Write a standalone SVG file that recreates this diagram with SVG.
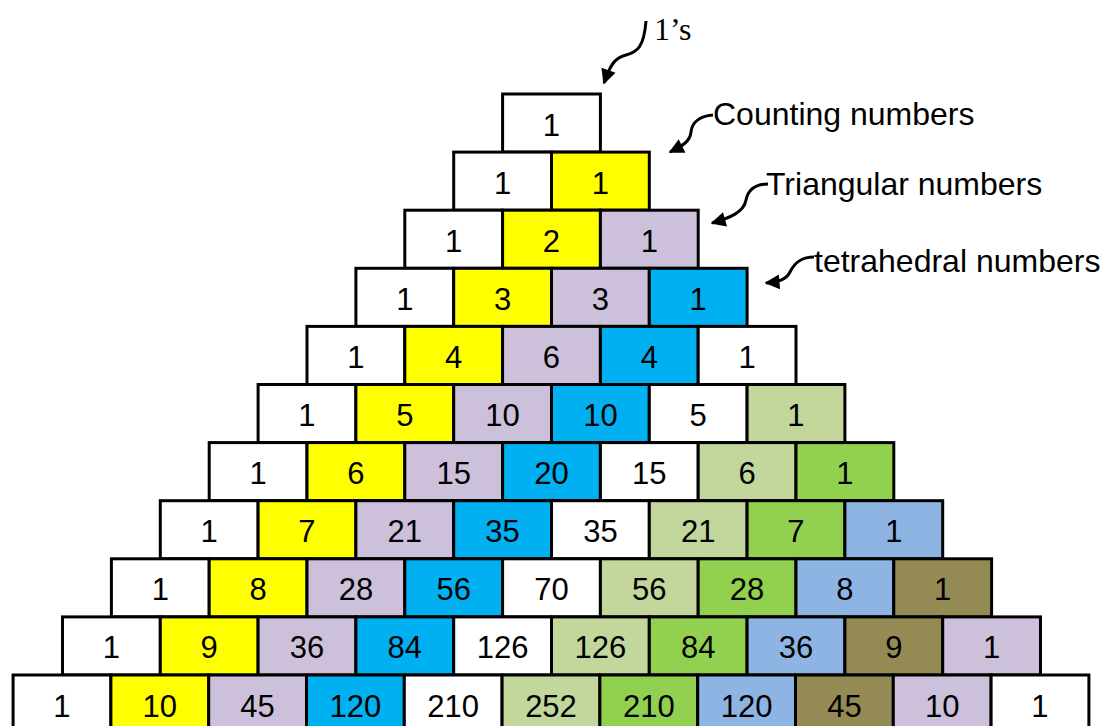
<svg xmlns="http://www.w3.org/2000/svg" width="1104" height="726" viewBox="0 0 1104 726">
<style>
.n rect{stroke:#000;stroke-width:3;height:58.1px;width:97.8px}
.n text{font-family:"Liberation Sans",Arial,sans-serif;font-size:31px;text-anchor:middle;fill:#000}
.k0 rect,.k4 rect,.k10 rect{fill:#fff}
.k1 rect{fill:#FFFF00}
.k2 rect,.k9 rect{fill:#CCC0DA}
.k3 rect{fill:#00B0F0}
.k5 rect{fill:#C3D69B}
.k6 rect{fill:#92D050}
.k7 rect{fill:#8DB4E2}
.k8 rect{fill:#948A54}
.lbl{font-family:"Liberation Sans",Arial,sans-serif;font-size:32px;fill:#000}
.ser{font-family:"Liberation Serif","Times New Roman",serif;font-size:32px;fill:#000}
.arr{fill:none;stroke:#000;stroke-width:3;marker-end:url(#ah)}
</style>
<defs>
<marker id="ah" viewBox="0 0 10 10" refX="9" refY="5" markerUnits="userSpaceOnUse" markerWidth="17" markerHeight="15" orient="auto">
<path d="M0,0 L10,5 L0,10 z" fill="#000"/>
</marker>
</defs>
<g id="row0" transform="translate(502.6,94)">
<g id="r0k0" class="n k0"><rect width="97.8" height="58.1"/><text x="48.9" y="41.5">1</text></g>
</g>
<g id="row1" transform="translate(453.7,152.1)">
<g id="r1k0" class="n k0"><rect width="97.8" height="58.1"/><text x="48.9" y="41.5">1</text></g>
<g id="r1k1" class="n k1" transform="translate(97.8,0)"><rect width="97.8" height="58.1"/><text x="48.9" y="41.5">1</text></g>
</g>
<g id="row2" transform="translate(404.8,210.2)">
<g id="r2k0" class="n k0"><rect width="97.8" height="58.1"/><text x="48.9" y="41.5">1</text></g>
<g id="r2k1" class="n k1" transform="translate(97.8,0)"><rect width="97.8" height="58.1"/><text x="48.9" y="41.5">2</text></g>
<g id="r2k2" class="n k2" transform="translate(195.6,0)"><rect width="97.8" height="58.1"/><text x="48.9" y="41.5">1</text></g>
</g>
<g id="row3" transform="translate(355.9,268.3)">
<g id="r3k0" class="n k0"><rect width="97.8" height="58.1"/><text x="48.9" y="41.5">1</text></g>
<g id="r3k1" class="n k1" transform="translate(97.8,0)"><rect width="97.8" height="58.1"/><text x="48.9" y="41.5">3</text></g>
<g id="r3k2" class="n k2" transform="translate(195.6,0)"><rect width="97.8" height="58.1"/><text x="48.9" y="41.5">3</text></g>
<g id="r3k3" class="n k3" transform="translate(293.4,0)"><rect width="97.8" height="58.1"/><text x="48.9" y="41.5">1</text></g>
</g>
<g id="row4" transform="translate(307,326.4)">
<g id="r4k0" class="n k0"><rect width="97.8" height="58.1"/><text x="48.9" y="41.5">1</text></g>
<g id="r4k1" class="n k1" transform="translate(97.8,0)"><rect width="97.8" height="58.1"/><text x="48.9" y="41.5">4</text></g>
<g id="r4k2" class="n k2" transform="translate(195.6,0)"><rect width="97.8" height="58.1"/><text x="48.9" y="41.5">6</text></g>
<g id="r4k3" class="n k3" transform="translate(293.4,0)"><rect width="97.8" height="58.1"/><text x="48.9" y="41.5">4</text></g>
<g id="r4k4" class="n k4" transform="translate(391.2,0)"><rect width="97.8" height="58.1"/><text x="48.9" y="41.5">1</text></g>
</g>
<g id="row5" transform="translate(258.1,384.5)">
<g id="r5k0" class="n k0"><rect width="97.8" height="58.1"/><text x="48.9" y="41.5">1</text></g>
<g id="r5k1" class="n k1" transform="translate(97.8,0)"><rect width="97.8" height="58.1"/><text x="48.9" y="41.5">5</text></g>
<g id="r5k2" class="n k2" transform="translate(195.6,0)"><rect width="97.8" height="58.1"/><text x="48.9" y="41.5">10</text></g>
<g id="r5k3" class="n k3" transform="translate(293.4,0)"><rect width="97.8" height="58.1"/><text x="48.9" y="41.5">10</text></g>
<g id="r5k4" class="n k4" transform="translate(391.2,0)"><rect width="97.8" height="58.1"/><text x="48.9" y="41.5">5</text></g>
<g id="r5k5" class="n k5" transform="translate(489,0)"><rect width="97.8" height="58.1"/><text x="48.9" y="41.5">1</text></g>
</g>
<g id="row6" transform="translate(209.2,442.6)">
<g id="r6k0" class="n k0"><rect width="97.8" height="58.1"/><text x="48.9" y="41.5">1</text></g>
<g id="r6k1" class="n k1" transform="translate(97.8,0)"><rect width="97.8" height="58.1"/><text x="48.9" y="41.5">6</text></g>
<g id="r6k2" class="n k2" transform="translate(195.6,0)"><rect width="97.8" height="58.1"/><text x="48.9" y="41.5">15</text></g>
<g id="r6k3" class="n k3" transform="translate(293.4,0)"><rect width="97.8" height="58.1"/><text x="48.9" y="41.5">20</text></g>
<g id="r6k4" class="n k4" transform="translate(391.2,0)"><rect width="97.8" height="58.1"/><text x="48.9" y="41.5">15</text></g>
<g id="r6k5" class="n k5" transform="translate(489,0)"><rect width="97.8" height="58.1"/><text x="48.9" y="41.5">6</text></g>
<g id="r6k6" class="n k6" transform="translate(586.8,0)"><rect width="97.8" height="58.1"/><text x="48.9" y="41.5">1</text></g>
</g>
<g id="row7" transform="translate(160.3,500.7)">
<g id="r7k0" class="n k0"><rect width="97.8" height="58.1"/><text x="48.9" y="41.5">1</text></g>
<g id="r7k1" class="n k1" transform="translate(97.8,0)"><rect width="97.8" height="58.1"/><text x="48.9" y="41.5">7</text></g>
<g id="r7k2" class="n k2" transform="translate(195.6,0)"><rect width="97.8" height="58.1"/><text x="48.9" y="41.5">21</text></g>
<g id="r7k3" class="n k3" transform="translate(293.4,0)"><rect width="97.8" height="58.1"/><text x="48.9" y="41.5">35</text></g>
<g id="r7k4" class="n k4" transform="translate(391.2,0)"><rect width="97.8" height="58.1"/><text x="48.9" y="41.5">35</text></g>
<g id="r7k5" class="n k5" transform="translate(489,0)"><rect width="97.8" height="58.1"/><text x="48.9" y="41.5">21</text></g>
<g id="r7k6" class="n k6" transform="translate(586.8,0)"><rect width="97.8" height="58.1"/><text x="48.9" y="41.5">7</text></g>
<g id="r7k7" class="n k7" transform="translate(684.6,0)"><rect width="97.8" height="58.1"/><text x="48.9" y="41.5">1</text></g>
</g>
<g id="row8" transform="translate(111.4,558.8)">
<g id="r8k0" class="n k0"><rect width="97.8" height="58.1"/><text x="48.9" y="41.5">1</text></g>
<g id="r8k1" class="n k1" transform="translate(97.8,0)"><rect width="97.8" height="58.1"/><text x="48.9" y="41.5">8</text></g>
<g id="r8k2" class="n k2" transform="translate(195.6,0)"><rect width="97.8" height="58.1"/><text x="48.9" y="41.5">28</text></g>
<g id="r8k3" class="n k3" transform="translate(293.4,0)"><rect width="97.8" height="58.1"/><text x="48.9" y="41.5">56</text></g>
<g id="r8k4" class="n k4" transform="translate(391.2,0)"><rect width="97.8" height="58.1"/><text x="48.9" y="41.5">70</text></g>
<g id="r8k5" class="n k5" transform="translate(489,0)"><rect width="97.8" height="58.1"/><text x="48.9" y="41.5">56</text></g>
<g id="r8k6" class="n k6" transform="translate(586.8,0)"><rect width="97.8" height="58.1"/><text x="48.9" y="41.5">28</text></g>
<g id="r8k7" class="n k7" transform="translate(684.6,0)"><rect width="97.8" height="58.1"/><text x="48.9" y="41.5">8</text></g>
<g id="r8k8" class="n k8" transform="translate(782.4,0)"><rect width="97.8" height="58.1"/><text x="48.9" y="41.5">1</text></g>
</g>
<g id="row9" transform="translate(62.5,616.9)">
<g id="r9k0" class="n k0"><rect width="97.8" height="58.1"/><text x="48.9" y="41.5">1</text></g>
<g id="r9k1" class="n k1" transform="translate(97.8,0)"><rect width="97.8" height="58.1"/><text x="48.9" y="41.5">9</text></g>
<g id="r9k2" class="n k2" transform="translate(195.6,0)"><rect width="97.8" height="58.1"/><text x="48.9" y="41.5">36</text></g>
<g id="r9k3" class="n k3" transform="translate(293.4,0)"><rect width="97.8" height="58.1"/><text x="48.9" y="41.5">84</text></g>
<g id="r9k4" class="n k4" transform="translate(391.2,0)"><rect width="97.8" height="58.1"/><text x="48.9" y="41.5">126</text></g>
<g id="r9k5" class="n k5" transform="translate(489,0)"><rect width="97.8" height="58.1"/><text x="48.9" y="41.5">126</text></g>
<g id="r9k6" class="n k6" transform="translate(586.8,0)"><rect width="97.8" height="58.1"/><text x="48.9" y="41.5">84</text></g>
<g id="r9k7" class="n k7" transform="translate(684.6,0)"><rect width="97.8" height="58.1"/><text x="48.9" y="41.5">36</text></g>
<g id="r9k8" class="n k8" transform="translate(782.4,0)"><rect width="97.8" height="58.1"/><text x="48.9" y="41.5">9</text></g>
<g id="r9k9" class="n k9" transform="translate(880.2,0)"><rect width="97.8" height="58.1"/><text x="48.9" y="41.5">1</text></g>
</g>
<g id="row10" transform="translate(13.1,675)">
<g id="r10k0" class="n k0"><rect width="97.8" height="58.1"/><text x="48.9" y="41.5">1</text></g>
<g id="r10k1" class="n k1" transform="translate(97.8,0)"><rect width="97.8" height="58.1"/><text x="48.9" y="41.5">10</text></g>
<g id="r10k2" class="n k2" transform="translate(195.6,0)"><rect width="97.8" height="58.1"/><text x="48.9" y="41.5">45</text></g>
<g id="r10k3" class="n k3" transform="translate(293.4,0)"><rect width="97.8" height="58.1"/><text x="48.9" y="41.5">120</text></g>
<g id="r10k4" class="n k4" transform="translate(391.2,0)"><rect width="97.8" height="58.1"/><text x="48.9" y="41.5">210</text></g>
<g id="r10k5" class="n k5" transform="translate(489,0)"><rect width="97.8" height="58.1"/><text x="48.9" y="41.5">252</text></g>
<g id="r10k6" class="n k6" transform="translate(586.8,0)"><rect width="97.8" height="58.1"/><text x="48.9" y="41.5">210</text></g>
<g id="r10k7" class="n k7" transform="translate(684.6,0)"><rect width="97.8" height="58.1"/><text x="48.9" y="41.5">120</text></g>
<g id="r10k8" class="n k8" transform="translate(782.4,0)"><rect width="97.8" height="58.1"/><text x="48.9" y="41.5">45</text></g>
<g id="r10k9" class="n k9" transform="translate(880.2,0)"><rect width="97.8" height="58.1"/><text x="48.9" y="41.5">10</text></g>
<g id="r10k10" class="n k10" transform="translate(978,0)"><rect width="97.8" height="58.1"/><text x="48.9" y="41.5">1</text></g>
</g>
<g id="labels">
<text id="lbl-ones" class="ser" x="654" y="40">1’s</text>
<text id="lbl-counting" class="lbl" x="713" y="125">Counting numbers</text>
<text id="lbl-triangular" class="lbl" x="766" y="195">Triangular numbers</text>
<text id="lbl-tetra" class="lbl" x="814" y="272">tetrahedral numbers</text>
</g>
<g id="connectors">
<path class="arr" d="M646,21 C644,46 638,52 626,55 C614,58 610,66 604,83"/>
<path class="arr" d="M713,115 C700,116 692,122 691,132 C690,142 682,146 670,152"/>
<path class="arr" d="M768,184 C755,184 748,190 746,200 C744,212 730,218 712,223"/>
<path class="arr" d="M814,257 C800,257 794,264 790,272 C786,280 778,282 766,283"/>
</g>
</svg>
